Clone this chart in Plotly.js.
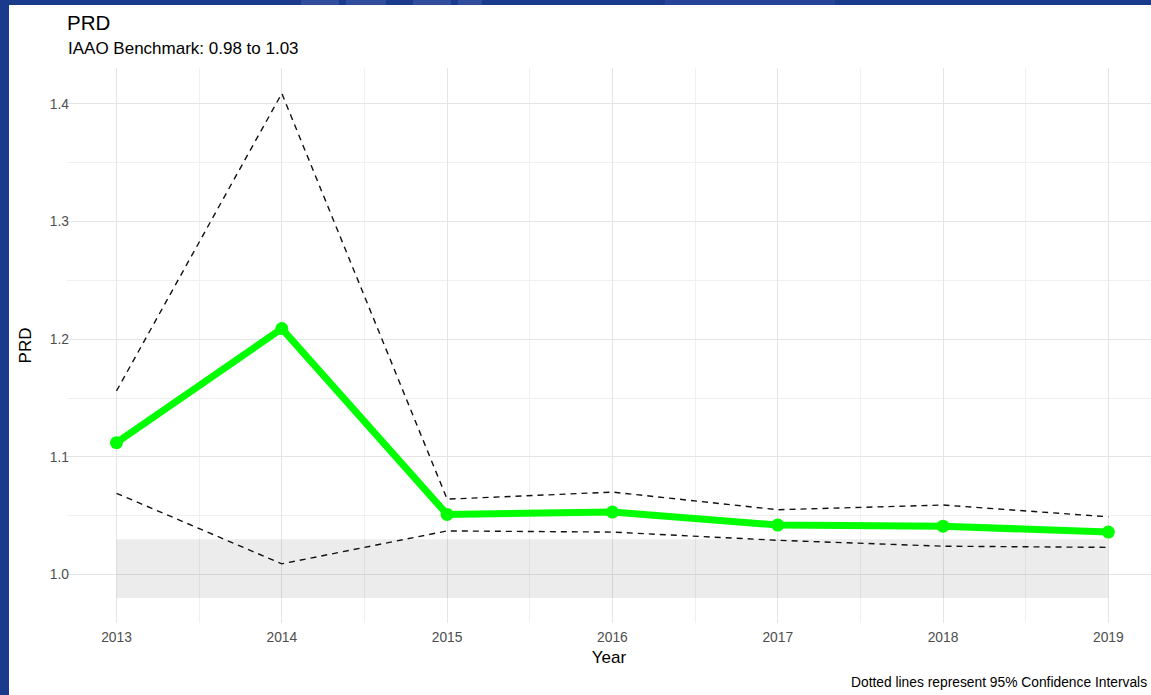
<!DOCTYPE html>
<html>
<head>
<meta charset="utf-8">
<script src="https://cdn.plot.ly/plotly-3.0.1.min.js"></script>
<style>
  html, body { margin: 0; padding: 0; width: 1151px; height: 695px; overflow: hidden; background: #1a3a8c; }
  .patch { position: absolute; top: 0; height: 5px; background: #2f4d9c; }
  #chart { position: absolute; left: 9px; top: 5px; width: 1142px; height: 690px; background: #ffffff; }
</style>
</head>
<body>
<div class="patch" style="left:301px;width:38px;"></div>
<div class="patch" style="left:346px;width:40px;"></div>
<div class="patch" style="left:413px;width:38px;"></div>
<div class="patch" style="left:458px;width:24px;"></div>
<div class="patch" style="left:665px;width:170px;background:#26449a;"></div>
<div id="chart"></div>
<script>
// PRD by year with 95% confidence bounds
const years    = [2013, 2014, 2015, 2016, 2017, 2018, 2019];
const prd      = [1.112, 1.209, 1.051, 1.053, 1.042, 1.041, 1.036];
const ciUpper  = [1.156, 1.409, 1.064, 1.070, 1.055, 1.059, 1.049];
const ciLower  = [1.069, 1.009, 1.037, 1.036, 1.029, 1.024, 1.023];
const benchmarkLow  = 0.98;
const benchmarkHigh = 1.03;
const yTicks = [1.0, 1.1, 1.2, 1.3, 1.4];

// minor grid sits halfway between the labelled breaks
const midpoints = a => a.slice(1).map((v, i) => (v + a[i]) / 2);
const xMinor = midpoints(years);
const yMinor = midpoints(yTicks);

const FONT = '"Liberation Sans", Arial, sans-serif';
const dashed = { color: '#111111', width: 1.4, dash: '6px,5px' };

const traces = [
  { x: years, y: ciUpper, type: 'scatter', mode: 'lines', line: dashed, hoverinfo: 'skip', showlegend: false },
  { x: years, y: ciLower, type: 'scatter', mode: 'lines', line: dashed, hoverinfo: 'skip', showlegend: false },
  { x: years, y: prd, type: 'scatter', mode: 'lines+markers',
    line: { color: '#00ff00', width: 7 },
    marker: { color: '#00ff00', size: 13 },
    showlegend: false }
];

const layout = {
  width: 1142, height: 690,
  margin: { l: 58, r: 0, t: 63, b: 72 },
  paper_bgcolor: '#ffffff', plot_bgcolor: '#ffffff',
  font: { family: FONT, color: '#000000' },
  showlegend: false,
  title: {
    text: 'PRD',
    font: { family: FONT, size: 20.5, color: '#000000' },
    x: 0, xref: 'paper', xanchor: 'left',
    y: 0.984, yref: 'container', yanchor: 'top'
  },
  xaxis: {
    range: [2012.7005, 2019.258],
    tickvals: years, ticktext: years.map(String),
    tickfont: { family: FONT, size: 13.8, color: '#4d4d4d' },
    ticks: '', showline: false, zeroline: false,
    ticklabelstandoff: 4,
    gridcolor: '#e5e5e5', gridwidth: 1,
    minor: { tickvals: xMinor, showgrid: true, gridcolor: '#f0f0f0', gridwidth: 1 },
    title: { text: 'Year', font: { family: FONT, size: 17, color: '#000000' }, standoff: 7 }
  },
  yaxis: {
    range: [0.9587, 1.4306],
    tickvals: yTicks, ticktext: yTicks.map(v => v.toFixed(1)),
    tickfont: { family: FONT, size: 13.8, color: '#4d4d4d' },
    ticks: '', showline: false, zeroline: false,
    ticklabelstandoff: -3,
    gridcolor: '#e5e5e5', gridwidth: 1,
    minor: { tickvals: yMinor, showgrid: true, gridcolor: '#f0f0f0', gridwidth: 1 },
    title: { text: 'PRD', font: { family: FONT, size: 17, color: '#000000' }, standoff: 13 }
  },
  shapes: [{
    type: 'rect', layer: 'between',
    xref: 'x', yref: 'y',
    x0: years[0], x1: years[years.length - 1],
    y0: benchmarkLow, y1: benchmarkHigh,
    fillcolor: 'rgba(0,0,0,0.075)', line: { width: 0 }
  }],
  annotations: [
    {
      text: 'IAAO Benchmark: 0.98 to 1.03',
      xref: 'paper', yref: 'paper', x: 0, y: 1,
      xanchor: 'left', yanchor: 'middle', xshift: -1, yshift: 20,
      showarrow: false,
      font: { family: FONT, size: 17, color: '#000000' }
    },
    {
      text: 'Dotted lines represent 95% Confidence Intervals',
      xref: 'paper', yref: 'paper', x: 1, y: 0,
      xanchor: 'right', yanchor: 'middle', xshift: -2, yshift: -59,
      showarrow: false,
      font: { family: FONT, size: 13.8, color: '#000000' }
    }
  ]
};

Plotly.newPlot('chart', traces, layout, { displayModeBar: false, staticPlot: true });
</script>
</body>
</html>
